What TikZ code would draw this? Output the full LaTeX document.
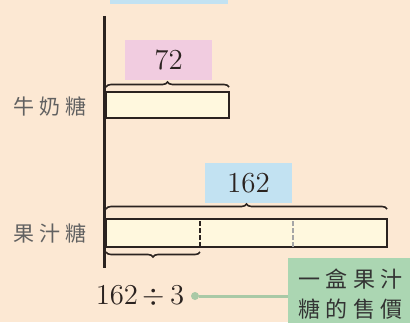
\documentclass[tikz,border=0pt]{standalone}
\usepackage{fontspec}
\newfontfamily\cjk[LetterSpace=25]{Noto Sans CJK TC}
\usetikzlibrary{%
  calc,%
  decorations.pathreplacing%
}
\definecolor{bgpeach}{HTML}{FCE8D3}
\definecolor{barfill}{HTML}{FFF8DE}
\definecolor{tagpink}{HTML}{F1CCE0}
\definecolor{tagblue}{HTML}{C2E2F2}
\definecolor{notegreen}{HTML}{ABD6B2}
\definecolor{linkgreen}{HTML}{A9C9A6}
\definecolor{ink}{HTML}{2B2320}
\tikzset{>=latex,
  candybar/.style={draw=ink,line width=1pt,fill=barfill},
  brc/.style={draw=ink,line width=0.8pt,decorate,decoration={brace,amplitude=2.5pt}},
  pricetag/.style={minimum width=43.5pt,minimum height=20pt,inner sep=0pt,text=ink,
    font=\fontsize{14.5}{16}\selectfont},
  candyname/.style={text=black!62,font=\cjk\fontsize{10.5}{12}\selectfont}
}

\begin{document}
\begin{tikzpicture}[x=0.5pt,y=0.5pt]
        \useasboundingbox (0,0) rectangle (410,322);
        \clip (0,0) rectangle (410,322);
        \fill[bgpeach] (0,0) rectangle (410,322);
        \fill[tagblue] (110,318) rectangle (228,330);
        % milk candy
        \node[pricetag,fill=tagpink] (milk) at (168.5,262) {72};
        \draw[candybar] (106,204) rectangle (229,230);
        \draw[brc] (106,235) -- (229,235);
        \node[candyname] (milkname) at (50,215) {牛奶糖};
        % juice candy
        \node[pricetag,fill=tagblue] (juice) at (248.5,139) {162};
        \draw[candybar] (106,75) rectangle (387,103);
        \draw[ink,line width=1pt,dash pattern=on 2.5pt off 1pt] (200,75) -- (200,103);
        \draw[black!35,line width=1pt,dash pattern=on 2.5pt off 1pt] (293,75) -- (293,103);
        \draw[brc] (106,113) -- (387,113);
        \draw[brc] (200,70) -- (106,70);
        \node[candyname] (juicename) at (50,89) {果汁糖};
        % axis
        \draw[ink,line width=1.5pt] (104,306) -- (104,54);
        % one box
        \node[text=ink,font=\fontsize{14.5}{16}\selectfont] (calc) at (140,26) {$162\,{\div}\,3$};
        \node[circle,fill=linkgreen,inner sep=0pt,minimum size=4pt] (dot) at (195,26) {};
        \node[fill=notegreen,anchor=north west,align=left,text width=75pt,
          inner xsep=5pt,inner ysep=5pt,text=black!80,
          font=\cjk\fontsize{11}{15}\selectfont] (note) at (288,64) {一盒果汁\\糖的售價};
        \draw[linkgreen,line width=1.5pt] (dot) -- (dot -| note.west);
      \end{tikzpicture}
\end{document}
